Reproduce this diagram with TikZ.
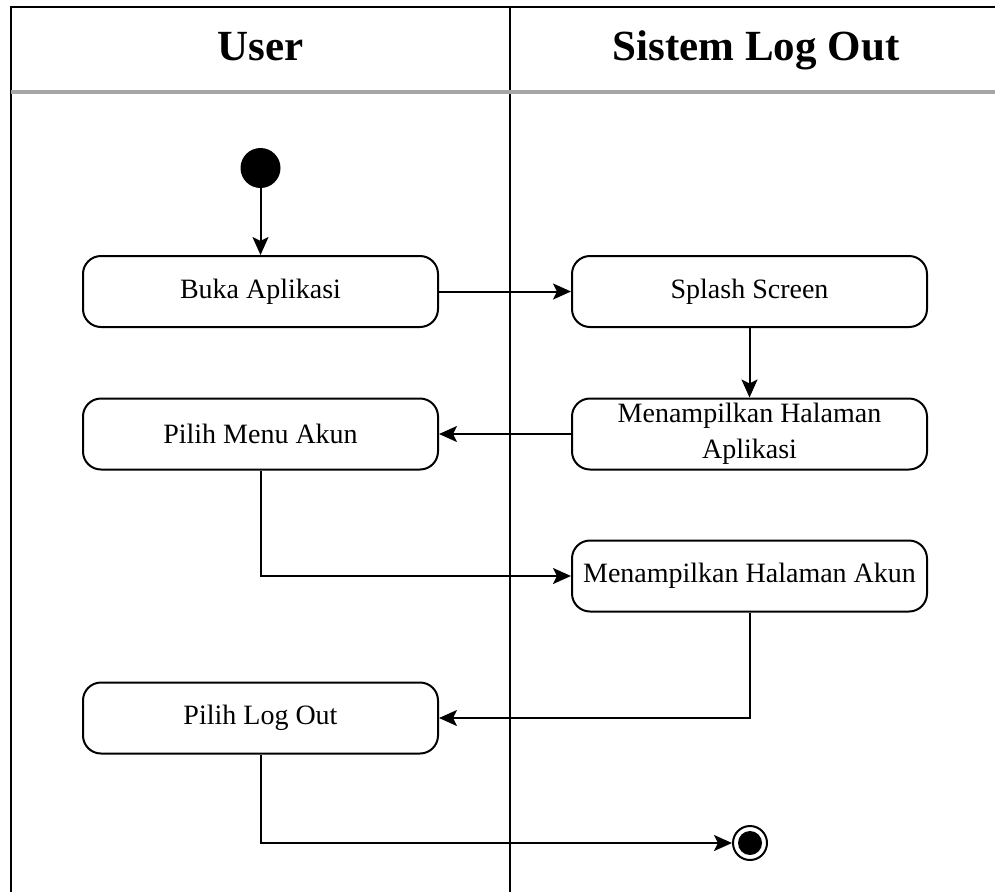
\documentclass[tikz,border=0pt]{standalone}
\usepackage{fontspec}
\setmainfont{Liberation Serif}
\usetikzlibrary{arrows.meta}
\begin{document}
\begin{tikzpicture}[x=1pt,y=-1pt,
  act/.style={draw,line width=2pt,rounded corners=18pt,minimum width=355pt,
    minimum height=71pt,inner sep=0pt,align=center,
    font=\fontsize{28}{36}\selectfont},
  flow/.style={line width=2pt,-{Stealth[length=18pt,width=16pt,inset=4pt]}},
  lane/.style={line width=2pt},
  head/.style={font=\fontsize{43}{50}\selectfont\bfseries,anchor=base}]
\useasboundingbox[fill=white] (0,0) rectangle (995,892);
% swimlane frame
\draw[lane] (11,892) -- (11,7) -- (995,7);
\draw[lane] (510,7) -- (510,892);
\draw[line width=3.5pt,gray!70] (11,92) -- (995,92);
\node[head] (hUser) at (260.5,60) {User};
\node[head] (hSys) at (756,60) {Sistem Log Out};
% activities
\node[circle,fill,minimum size=40pt,inner sep=0pt] (start) at (260.5,168) {};
\node[act] (buka) at (260.5,291.5) {Buka Aplikasi};
\node[act] (splash) at (749.5,291.5) {Splash Screen};
\node[act] (mha) at (749.5,434) {Menampilkan Halaman\\Aplikasi};
\node[act] (menu) at (260.5,434) {Pilih Menu Akun};
\node[act] (akun) at (749.5,576) {Menampilkan Halaman Akun};
\node[act] (logout) at (260.5,718) {Pilih Log Out};
\node[circle,draw,line width=2pt,minimum size=34pt,inner sep=0pt] (end) at (750,843) {};
\fill (end.center) circle (12pt);
% control flow
\draw[flow] (start) -- (buka);
\draw[flow] (buka) -- (splash);
\draw[flow] (splash) -- (mha);
\draw[flow] (mha) -- (menu);
\draw[flow] (menu.south) |- (akun.west);
\draw[flow] (akun.south) |- (logout.east);
\draw[flow] (logout.south) |- (end.west);
\end{tikzpicture}
\end{document}
